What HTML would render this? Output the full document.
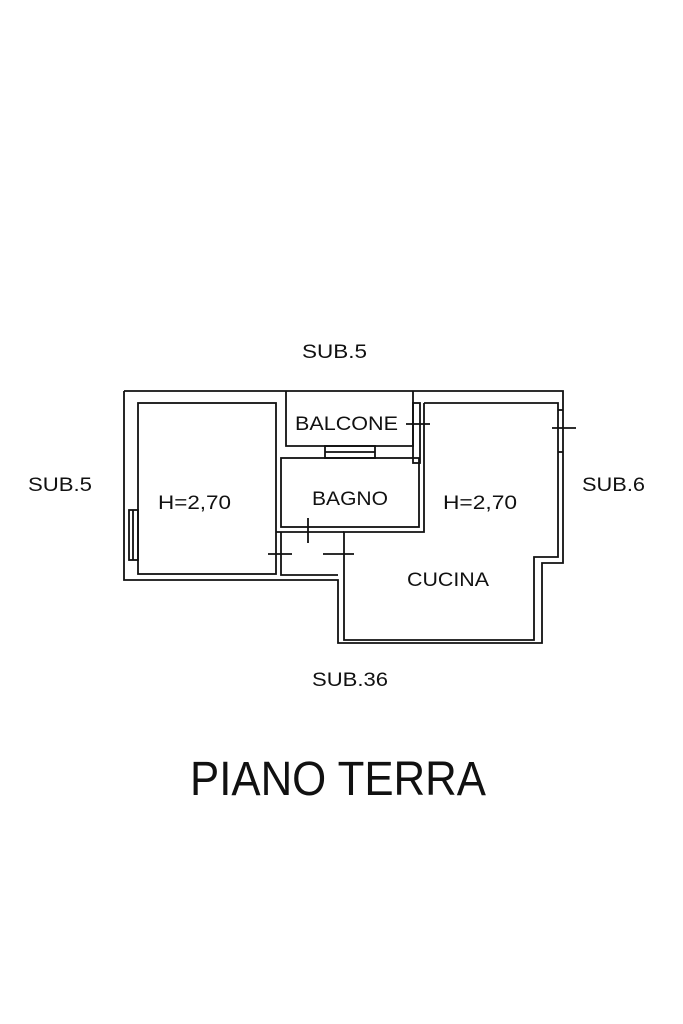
<!DOCTYPE html>
<html><head><meta charset="utf-8"><style>
html,body{margin:0;padding:0;background:#fff;}
svg{display:block;}
text{font-family:"Liberation Sans",Arial,sans-serif;fill:#111;}
</style></head><body>
<svg width="683" height="1024" viewBox="0 0 683 1024" xmlns="http://www.w3.org/2000/svg">
<g fill="none" stroke="#111" stroke-width="1.8">
<polyline points="124,391 563,391 563,563 542,563 542,643 338,643 338,580 124,580 124,391"/>
<rect x="138" y="403" width="138" height="171"/>
<polyline points="286,391 286,446 413,446 413,391"/>
<rect x="325" y="446" width="50" height="12"/>
<line x1="325" y1="452" x2="375" y2="452"/>
<rect x="281" y="458" width="138" height="69"/>
<polyline points="281,532 281,575 338,575"/>
<line x1="276" y1="532" x2="344" y2="532"/>
<polyline points="424,403 558,403 558,557 534,557 534,640 344,640 344,532 424,532 424,403"/>
<rect x="413" y="403" width="7" height="60"/>
<rect x="129" y="510" width="9" height="50"/>
<line x1="133" y1="510" x2="133" y2="560"/>
<line x1="558" y1="410" x2="563" y2="410"/>
<line x1="558" y1="452" x2="563" y2="452"/>
<line x1="406" y1="424" x2="430" y2="424"/>
<line x1="552" y1="428" x2="576" y2="428"/>
<line x1="268" y1="554" x2="292" y2="554"/>
<line x1="323" y1="554" x2="354" y2="554"/>
<line x1="308" y1="518" x2="308" y2="543"/>
</g>
<g font-size="19" lengthAdjust="spacingAndGlyphs">
<text x="302" y="358" textLength="65" lengthAdjust="spacingAndGlyphs">SUB.5</text>
<text x="28" y="491" textLength="64" lengthAdjust="spacingAndGlyphs">SUB.5</text>
<text x="582" y="491" textLength="63" lengthAdjust="spacingAndGlyphs">SUB.6</text>
<text x="312" y="686" textLength="76" lengthAdjust="spacingAndGlyphs">SUB.36</text>
<text x="295" y="430" textLength="103" lengthAdjust="spacingAndGlyphs">BALCONE</text>
<text x="312" y="505" textLength="76" lengthAdjust="spacingAndGlyphs" fill="#333">BAGNO</text>
<text x="158" y="509" textLength="73" lengthAdjust="spacingAndGlyphs">H=2,70</text>
<text x="443" y="509" textLength="74" lengthAdjust="spacingAndGlyphs">H=2,70</text>
<text x="407" y="586" textLength="82" lengthAdjust="spacingAndGlyphs">CUCINA</text>
</g>
<text x="190" y="795" font-size="48" textLength="296" lengthAdjust="spacingAndGlyphs">PIANO TERRA</text>
</svg>
</body></html>
